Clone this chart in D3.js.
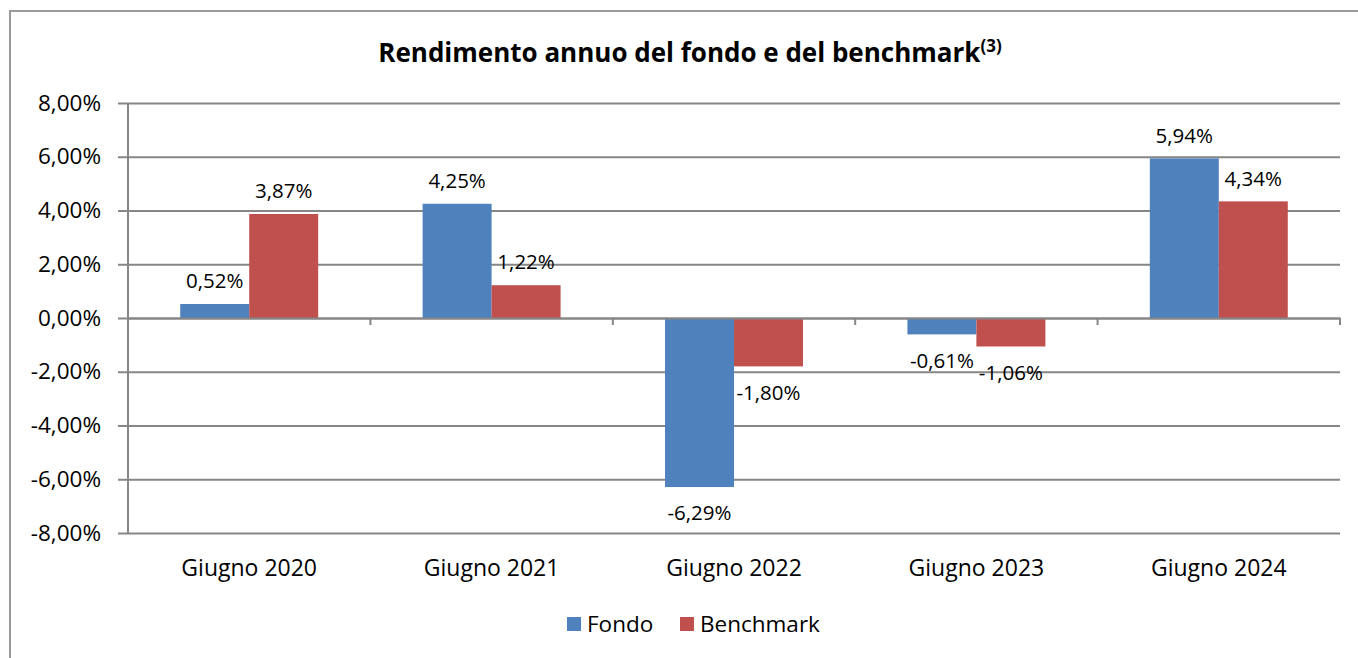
<!DOCTYPE html>
<html>
<head>
<meta charset="utf-8">
<script src="https://cdn.jsdelivr.net/npm/d3@7"></script>
<style>
    body { margin: 0; background: #fff; }
    text { font-family: "Open Sans", sans-serif; fill: #000; }
</style>
</head>
<body>
<div id="chart"></div>
<script>
// Data
const categories = ['Giugno 2020', 'Giugno 2021', 'Giugno 2022', 'Giugno 2023', 'Giugno 2024'];
const seriesNames = ['Fondo', 'Benchmark'];
const fondo = [0.52, 4.25, -6.29, -0.61, 5.94];
const benchmark = [3.87, 1.22, -1.80, -1.06, 4.34];
const yTicks = [-8, -6, -4, -2, 0, 2, 4, 6, 8];
const titleText = 'Rendimento annuo del fondo e del benchmark';
const titleNote = '(3)';

const colors = { Fondo: '#4F81BD', Benchmark: '#C0504D' };

// Italian number format (comma as decimal separator, plain hyphen)
const it = d3.formatLocale({ decimal: ',', thousands: '.', grouping: [3], currency: ['€', ''], minus: '-' });
const pct = v => it.format('.2f')(v) + '%';

const svgWidth = 1358;
const svgHeight = 658;
const plot = { left: 128, right: 1340, top: 103, bottom: 533 };
const centerX = 690;

const svg = d3.select('#chart')
    .append('svg')
    .attr('width', svgWidth)
    .attr('height', svgHeight);

// chart frame
svg.append('path')
    .attr('d', `M10,${svgHeight + 5} L10,11 L${svgWidth + 5},11`)
    .attr('fill', 'none')
    .attr('stroke', '#9a9a9a')
    .attr('stroke-width', 2);

// Scales
const x0 = d3.scaleBand()
    .domain(categories)
    .range([plot.left, plot.right])
    .padding(0);

const x1 = d3.scaleBand()
    .domain(seriesNames)
    .range([0, x0.bandwidth()])
    .paddingInner(0)
    .paddingOuter(0.757);

const yScale = d3.scaleLinear()
    .domain([-8, 8])
    .range([plot.bottom, plot.top]);

// gridlines + y axis
svg.append('g')
    .attr('transform', `translate(${plot.left},0)`)
    .call(d3.axisLeft(yScale)
        .tickValues(yTicks)
        .tickSize(10)
        .tickPadding(17)
        .tickFormat(d => pct(d)))
    .call(g => g.select('.domain').remove())
    .call(g => g.selectAll('.tick line')
        .attr('x1', plot.right - plot.left)
        .attr('x2', -10)
        .attr('stroke', '#868686')
        .attr('stroke-width', 2))
    .call(g => g.selectAll('.tick text')
        .style('font-size', '22.5px')
        .attr('fill', '#000'));

svg.append('line')
    .attr('x1', plot.left).attr('x2', plot.left)
    .attr('y1', plot.top).attr('y2', plot.bottom)
    .attr('stroke', '#868686')
    .attr('stroke-width', 2);

// Bars
const rows = categories.map((c, i) => ({ cat: c, values: [
    { key: 'Fondo', value: fondo[i] },
    { key: 'Benchmark', value: benchmark[i] }
] }));

const groups = svg.selectAll('g.group')
    .data(rows)
    .enter()
    .append('g')
    .attr('class', 'group')
    .attr('transform', d => `translate(${x0(d.cat)},0)`);

groups.selectAll('rect')
    .data(d => d.values)
    .enter()
    .append('rect')
    .attr('x', d => x1(d.key))
    .attr('y', d => yScale(Math.max(0, d.value)))
    .attr('width', x1.bandwidth())
    .attr('height', d => Math.abs(yScale(d.value) - yScale(0)))
    .attr('fill', d => colors[d.key]);

// data labels
groups.selectAll('text.label')
    .data(d => d.values)
    .enter()
    .append('text')
    .attr('class', 'label')
    .attr('x', d => x1(d.key) + x1.bandwidth() / 2)
    .attr('y', d => d.value >= 0 ? yScale(d.value) - 23 : yScale(d.value) + 26)
    .attr('dy', '0.35em')
    .attr('text-anchor', 'middle')
    .style('font-size', '20.5px')
    .text(d => pct(d.value));

// x axis on zero line
svg.append('g')
    .attr('transform', `translate(0,${yScale(0)})`)
    .call(d3.axisBottom(x0).tickSize(0).tickFormat(''))
    .call(g => g.select('.domain')
        .attr('stroke', '#868686')
        .attr('stroke-width', 2));

// category separators on the zero line
svg.append('g')
    .selectAll('line')
    .data(categories.slice(1).concat(['end']))
    .enter()
    .append('line')
    .attr('x1', d => d === 'end' ? plot.right : x0(d))
    .attr('x2', d => d === 'end' ? plot.right : x0(d))
    .attr('y1', yScale(0))
    .attr('y2', yScale(0) + 7)
    .attr('stroke', '#868686')
    .attr('stroke-width', 2);

// category labels at bottom
svg.append('g')
    .selectAll('text')
    .data(categories)
    .enter()
    .append('text')
    .attr('x', d => x0(d) + x0.bandwidth() / 2)
    .attr('y', 568)
    .attr('dy', '0.35em')
    .attr('text-anchor', 'middle')
    .style('font-size', '23px')
    .text(d => d);

// Title
const title = svg.append('text')
    .attr('x', centerX)
    .attr('y', 53)
    .attr('dy', '0.35em')
    .attr('text-anchor', 'middle')
    .style('font-size', '26px')
    .style('font-weight', 'bold');
title.append('tspan').text(titleText);
title.append('tspan')
    .attr('dy', '-10')
    .style('font-size', '17px')
    .text(titleNote);

// Legend
const legend = svg.append('g')
    .attr('transform', `translate(567,624)`);

const legendX = [0, 113];
seriesNames.forEach((name, i) => {
    const item = legend.append('g').attr('transform', `translate(${legendX[i]},0)`);
    item.append('rect')
        .attr('x', 0).attr('y', -7)
        .attr('width', 14).attr('height', 14)
        .attr('fill', colors[name]);
    item.append('text')
        .attr('x', 20)
        .attr('y', 0)
        .attr('dy', '0.35em')
        .style('font-size', '22.5px')
        .text(name);
});
</script>
</body>
</html>
